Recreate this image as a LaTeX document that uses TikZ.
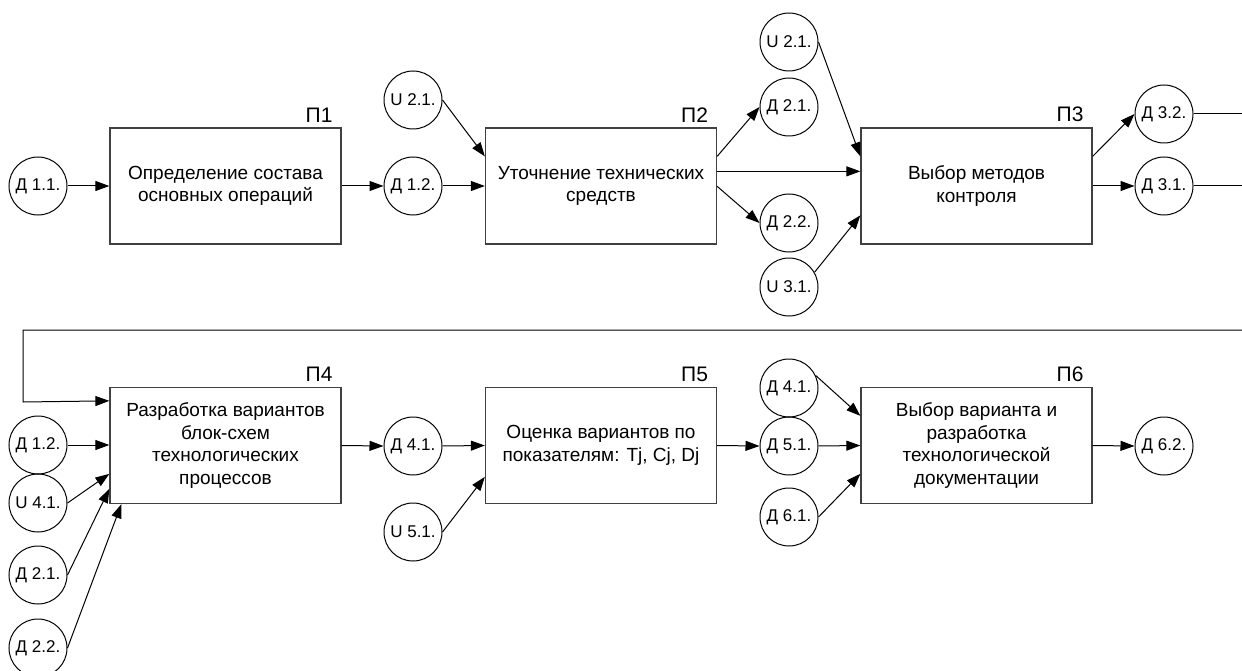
\documentclass[tikz,border=0pt]{standalone}
\usepackage{fontspec}
\setmainfont{Liberation Sans}
\usetikzlibrary{arrows.meta,calc}

\tikzset{
  procbox/.style={draw=black!75, line width=1.3pt, minimum width=231pt, minimum height=116pt,
    inner sep=2pt, align=center, font=\fontsize{19}{22.5}\selectfont},
  datanode/.style={circle, draw=black, line width=1pt, minimum size=58pt, inner sep=0pt,
    font=\fontsize{17}{19}\selectfont},
  proclabel/.style={anchor=south east, inner sep=0pt, font=\fontsize{21}{24}\selectfont},
  flow/.style={draw=black, line width=1pt, -{Triangle[length=14pt,width=10pt]}},
  plainline/.style={draw=black, line width=1pt},
}

\begin{document}
\begin{tikzpicture}[x=1pt,y=-1pt]
\useasboundingbox (0,0) rectangle (1242,671);
\clip (0,0) rectangle (1242,671);

% process boxes
\node[procbox] (p1) at (225.5,186) {Определение состава\\основных операций};
\node[procbox] (p2) at (601,186) {Уточнение технических\\средств};
\node[procbox] (p3) at (976.5,186) {Выбор методов\\контроля};
\node[procbox] (p4) at (225.5,445.5) {Разработка вариантов\\блок-схем\\технологических\\процессов};
\node[procbox] (p5) at (601,445.5) {Оценка вариантов по\\показателям: Tj, Cj, Dj};
\node[procbox] (p6) at (976.5,445.5) {Выбор варианта и\\разработка\\технологической\\документации};

% process numbers
\node[proclabel] (l1) at ($(p1.north east)+(-9,-5)$) {П1};
\node[proclabel] (l2) at ($(p2.north east)+(-9,-5)$) {П2};
\node[proclabel] (l3) at ($(p3.north east)+(-9,-5)$) {П3};
\node[proclabel] (l4) at ($(p4.north east)+(-9,-5)$) {П4};
\node[proclabel] (l5) at ($(p5.north east)+(-9,-5)$) {П5};
\node[proclabel] (l6) at ($(p6.north east)+(-9,-5)$) {П6};

% data and control items, upper row
\node[datanode] (d11)  at (38,186)   {Д 1.1.};
\node[datanode] (d12a) at (413,186)  {Д 1.2.};
\node[datanode] (u21a) at (413,100)  {U 2.1.};
\node[datanode] (u21b) at (789,42)   {U 2.1.};
\node[datanode] (d21a) at (789,107)  {Д 2.1.};
\node[datanode] (d22a) at (789,223)  {Д 2.2.};
\node[datanode] (u31)  at (789,287)  {U 3.1.};
\node[datanode] (d32)  at (1164,114) {Д 3.2.};
\node[datanode] (d31)  at (1164,186) {Д 3.1.};

% data and control items, lower row
\node[datanode] (d12b) at (38,445)   {Д 1.2.};
\node[datanode] (u41)  at (38,503)   {U 4.1.};
\node[datanode] (d21b) at (38,575)   {Д 2.1.};
\node[datanode] (d22b) at (38,648)   {Д 2.2.};
\node[datanode] (d41a) at (413,446)  {Д 4.1.};
\node[datanode] (u51)  at (413,532)  {U 5.1.};
\node[datanode] (d41b) at (789,388)  {Д 4.1.};
\node[datanode] (d51)  at (789,446)  {Д 5.1.};
\node[datanode] (d61)  at (789,517)  {Д 6.1.};
\node[datanode] (d62)  at (1164,446) {Д 6.2.};

% free ends at the right margin
\coordinate (r32) at (1242,114);
\coordinate (r31) at (1242,186);
\coordinate (rfb) at (1242,330);
\coordinate (cfb1) at (23,330);
\coordinate (cfb2) at (23,402);

% upper row connectors
\draw[flow] (d11.east) -- (p1.west);
\draw[flow] (p1.east) -- (d12a.west);
\draw[flow] (d12a.east) -- (p2.west);
\draw[flow] (u21a.east) -- ($(p2.north west)+(0,29)$);
\draw[flow] ($(p2.north east)+(0,29)$) -- (d21a.west);
\draw[flow] ($(p2.north east)+(0,44)$) -- ($(p3.north west)+(0,44)$);
\draw[flow] ($(p2.north east)+(0,59)$) -- (d22a.west);
\draw[flow] (u21b.east) -- ($(p3.north west)+(0,29)$);
\draw[flow] (u31.30) -- ($(p3.north west)+(0,88)$);
\draw[flow] ($(p3.north east)+(0,29)$) -- (d32.west);
\draw[flow] (p3.east) -- (d31.west);
\draw[plainline] (d32.east) -- (r32);
\draw[plainline] (d31.east) -- (r31);

% feedback into the second row
\draw[flow] (rfb) -- (cfb1) -- (cfb2) -- ($(p4.north west)+(0,14)$);

% lower row connectors
\draw[flow] (d12b.east) -- (d12b.east -| p4.west);
\draw[flow] (u41.east) -- ($(p4.north west)+(0,87)$);
\draw[flow] (d21b.east) -- ($(p4.north west)+(0,102)$);
\draw[flow] (d22b.east) -- ($(p4.south west)+(12,0)$);
\draw[flow] (p4.east) -- (d41a.west);
\draw[flow] (d41a.east) -- (p5.west);
\draw[flow] (u51.east) -- ($(p5.north west)+(0,90)$);
\draw[flow] (p5.east) -- (d51.west);
\draw[flow] (d41b.25) -- ($(p6.north west)+(0,29)$);
\draw[flow] (d51.east) -- (p6.west);
\draw[flow] (d61.east) -- ($(p6.north west)+(0,87)$);
\draw[flow] (p6.east) -- (d62.west);
\end{tikzpicture}
\end{document}
